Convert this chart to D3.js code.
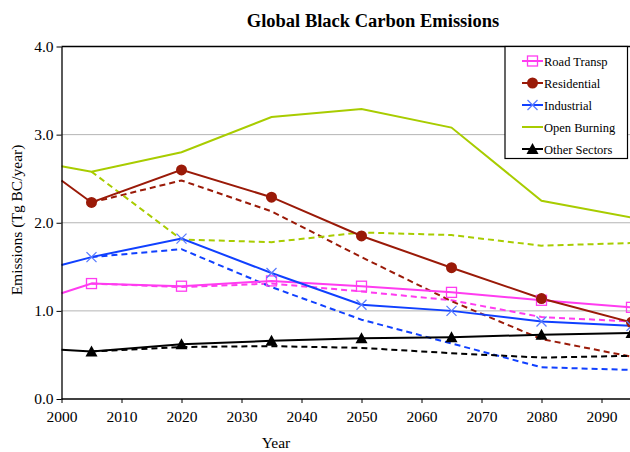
<!DOCTYPE html>
<html><head><meta charset="utf-8">
<script src="https://cdn.jsdelivr.net/npm/d3@7"></script>
<style>body{margin:0;background:#fff}svg{display:block}text{font-family:"Liberation Serif","Times New Roman",serif;fill:#000}</style>
</head><body><div id="chart"></div>
<script>
const years = [2000, 2005, 2020, 2035, 2050, 2065, 2080, 2095];
const dashYears = [2005, 2020, 2035, 2050, 2065, 2080, 2095];
const seriesNames = ["Road Transp", "Residential", "Industrial", "Open Burning", "Other Sectors"];
const roadSolid = [1.20, 1.31, 1.28, 1.34, 1.28, 1.21, 1.12, 1.04];
const roadDash = [1.31, 1.27, 1.31, 1.22, 1.12, 0.93, 0.88];
const resSolid = [2.48, 2.23, 2.60, 2.29, 1.85, 1.49, 1.14, 0.87];
const resDash = [2.23, 2.48, 2.13, 1.61, 1.11, 0.68, 0.48];
const indSolid = [1.52, 1.61, 1.82, 1.43, 1.07, 1.00, 0.88, 0.83];
const indDash = [1.61, 1.70, 1.27, 0.90, 0.63, 0.36, 0.33];
const obSolid = [2.64, 2.58, 2.80, 3.20, 3.29, 3.08, 2.25, 2.06];
const obDash = [2.58, 1.81, 1.78, 1.89, 1.86, 1.74, 1.77];
const othSolid = [0.56, 0.54, 0.62, 0.66, 0.69, 0.70, 0.73, 0.75];
const othDash = [0.54, 0.59, 0.60, 0.58, 0.52, 0.47, 0.49];
const xTicks = [2000, 2010, 2020, 2030, 2040, 2050, 2060, 2070, 2080, 2090];
const yTicks = [0, 1, 2, 3, 4];

const colors = ["#ff3cf0", "#9a1a08", "#1040ff", "#a8cc00", "#000000"];
const markers = ["square", "circle", "cross", "none", "triangle"];
const solids = [roadSolid, resSolid, indSolid, obSolid, othSolid];
const dashes = [roadDash, resDash, indDash, obDash, othDash];

const W = 630, H = 452;
const svg = d3.select("#chart").append("svg").attr("width", W).attr("height", H);
const x = d3.scaleLinear().domain([2000, 2095]).range([61.5, 631.5]);
const y = d3.scaleLinear().domain([0, 4]).range([399, 46.5]);

svg.append("g").selectAll("line").data([1, 2, 3]).join("line")
  .attr("x1", x(2000)).attr("x2", W).attr("y1", d => y(d)).attr("y2", d => y(d))
  .attr("stroke", "#b4b4b4").attr("stroke-width", 1);
svg.append("line").attr("x1", x(2000)).attr("x2", W).attr("y1", y(4)).attr("y2", y(4))
  .attr("stroke", "#000").attr("stroke-width", 1.3);

const line = d3.line().x(d => x(d[0])).y(d => y(d[1]));

dashes.forEach((arr, i) => {
  svg.append("path").datum(dashYears.map((yr, j) => [yr, arr[j]]))
    .attr("d", line).attr("fill", "none").attr("stroke", colors[i])
    .attr("stroke-width", 2).attr("stroke-dasharray", "6,4");
});
solids.forEach((arr, i) => {
  svg.append("path").datum(years.map((yr, j) => [yr, arr[j]]))
    .attr("d", line).attr("fill", "none").attr("stroke", colors[i])
    .attr("stroke-width", 2);
});

function drawMarker(g, type, cx, cy, color) {
  if (type === "square") {
    g.append("rect").attr("x", cx - 5).attr("y", cy - 5).attr("width", 10).attr("height", 10)
      .attr("fill", "none").attr("stroke", color).attr("stroke-width", 1.3);
  } else if (type === "circle") {
    g.append("circle").attr("cx", cx).attr("cy", cy).attr("r", 5.5).attr("fill", color);
  } else if (type === "cross") {
    g.append("path").attr("d", `M${cx-5},${cy-5}L${cx+5},${cy+5}M${cx-5},${cy+5}L${cx+5},${cy-5}`)
      .attr("stroke", "#5a7cff").attr("stroke-width", 1.3).attr("fill", "none");
  } else if (type === "triangle") {
    g.append("path").attr("d", `M${cx},${cy-6}L${cx+6},${cy+5}L${cx-6},${cy+5}Z`).attr("fill", color);
  }
}
solids.forEach((arr, i) => {
  const g = svg.append("g");
  years.forEach((yr, j) => { if (j > 0) drawMarker(g, markers[i], x(yr), y(arr[j]), colors[i]); });
});

const xAxis = svg.append("g").attr("transform", `translate(0,${y(0)})`)
  .call(d3.axisBottom(x).tickValues(xTicks).tickFormat(d3.format("d")).tickSize(4).tickSizeOuter(0));
xAxis.attr("font-family", null);
xAxis.select(".domain").attr("d", `M${x(2000)},0H${W}`).attr("stroke-width", 1.3);
xAxis.selectAll("text").attr("font-size", 15.5).attr("dy", "1.05em");
const yAxis = svg.append("g").attr("transform", `translate(${x(2000)},0)`)
  .call(d3.axisLeft(y).tickValues(yTicks).tickFormat(d3.format(".1f")).tickSize(5).tickSizeOuter(0));
yAxis.attr("font-family", null);
yAxis.select(".domain").attr("stroke-width", 1.3);
yAxis.selectAll("text").attr("font-size", 15.5).attr("x", -8);
svg.selectAll(".tick line").attr("stroke", "#000");

svg.append("text").attr("x", 373).attr("y", 27).attr("text-anchor", "middle")
  .attr("font-size", 18.5).attr("font-weight", "bold").text("Global Black Carbon Emissions");
svg.append("text").attr("x", 276).attr("y", 448).attr("text-anchor", "middle")
  .attr("font-size", 15.5).text("Year");
svg.append("text").attr("transform", "translate(22,220) rotate(-90)").attr("text-anchor", "middle")
  .attr("font-size", 15.5).text("Emissions (Tg BC/year)");

const lg = svg.append("g");
lg.append("rect").attr("x", 505).attr("y", 46.5).attr("width", 122.5).attr("height", 112)
  .attr("fill", "#fff").attr("stroke", "#000").attr("stroke-width", 1.2);
seriesNames.forEach((name, i) => {
  const ly = 61 + i * 22;
  lg.append("line").attr("x1", 522).attr("x2", 543).attr("y1", ly).attr("y2", ly)
    .attr("stroke", colors[i]).attr("stroke-width", 2);
  drawMarker(lg, markers[i], 532.5, ly, colors[i]);
  lg.append("text").attr("x", 544).attr("y", ly + 4.5).attr("font-size", 12.5).text(name);
});
</script></body></html>
